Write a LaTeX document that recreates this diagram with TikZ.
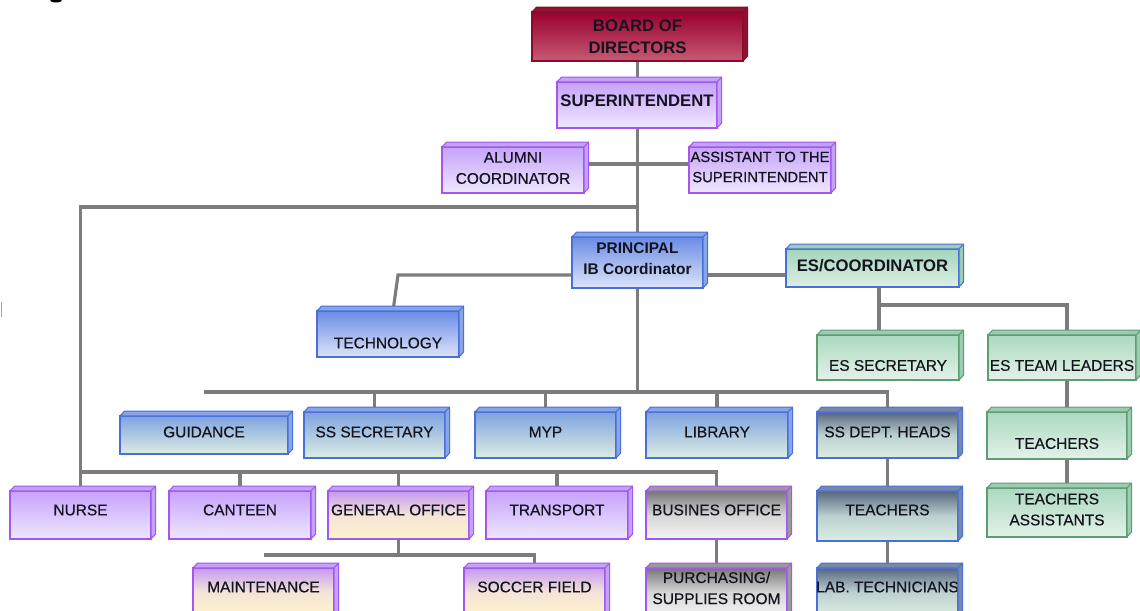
\documentclass[tikz,border=0pt]{standalone}
\usepackage{fontspec}
\setmainfont{Liberation Sans}
\newfontfamily\lblfont[FakeBold=0.5]{Liberation Sans}
\usetikzlibrary{backgrounds}
\definecolor{connc}{HTML}{7C7C7C}
\definecolor{txtc}{HTML}{14141F}
\definecolor{bdB}{HTML}{8A0A2A}\definecolor{bdT}{HTML}{9A0030}\definecolor{bdBot}{HTML}{C65A72}\definecolor{bdS}{HTML}{8E1232}
\definecolor{purB}{HTML}{A455F2}\definecolor{purT}{HTML}{C6A2FA}\definecolor{purBot}{HTML}{EFE8FF}\definecolor{purS}{HTML}{C3A3F5}
\definecolor{bluB}{HTML}{4870D8}\definecolor{bluT}{HTML}{6A8CE6}\definecolor{bluBot}{HTML}{DCE4F8}\definecolor{bluS}{HTML}{8AA4E8}
\definecolor{bgT}{HTML}{7FA2E0}\definecolor{bgBot}{HTML}{DCEEE2}
\definecolor{escT}{HTML}{A4D4BC}\definecolor{escBot}{HTML}{DDF0E5}\definecolor{escS}{HTML}{9CCCB4}
\definecolor{grnB}{HTML}{5E9C74}\definecolor{grnT}{HTML}{ABD9BF}\definecolor{grnBot}{HTML}{E3F2E9}\definecolor{grnS}{HTML}{9CCBB0}
\definecolor{dkT}{HTML}{56657F}\definecolor{dkM}{HTML}{BCD0D0}\definecolor{dkBot}{HTML}{DCEEE2}\definecolor{dkS}{HTML}{7A88A6}
\definecolor{gryT}{HTML}{767676}\definecolor{gryM}{HTML}{D6D6D6}\definecolor{gryBot}{HTML}{F4F4F4}\definecolor{gryS}{HTML}{9A9A9A}
\definecolor{yelT}{HTML}{C49AF0}\definecolor{yelM}{HTML}{F4E4D8}\definecolor{yelBot}{HTML}{FFF3CC}
\tikzset{
  conn/.style={draw=connc, line width=1.8pt},
  orgbox/.style={draw, line width=0.8pt, inner sep=0pt, outer sep=0pt},
  facebase/.style={line width=0.6pt, line join=round},
  lbl/.style={inner sep=0pt, align=center, text=txtc, font=\lblfont\fontsize{8.8}{12}\selectfont},
  bld/.style={font=\fontsize{9.5}{12.5}\selectfont\bfseries},
  bldS/.style={font=\fontsize{8.8}{12}\selectfont\bfseries},
  nar/.style={font=\lblfont\fontsize{8.4}{11.5}\selectfont},
  bd/.style={draw=bdB, top color=bdT, bottom color=bdBot},
  bd side/.style={facebase, draw=bdB, fill=bdS},
  pur/.style={draw=purB, top color=purT, bottom color=purBot},
  pur side/.style={facebase, draw=purB, fill=purS},
  blu/.style={draw=bluB, top color=bluT, bottom color=bluBot},
  blu side/.style={facebase, draw=bluB, fill=bluS},
  bg/.style={draw=bluB, top color=bgT, bottom color=bgBot},
  bg side/.style={facebase, draw=bluB, fill=bluS},
  esc/.style={draw=bluB, top color=escT, bottom color=escBot},
  esc side/.style={facebase, draw=bluB, fill=escS},
  grn/.style={draw=grnB, top color=grnT, bottom color=grnBot},
  grn side/.style={facebase, draw=grnB, fill=grnS},
  dk/.style={draw=bluB, top color=dkT, bottom color=dkBot, middle color=dkM},
  dk side/.style={facebase, draw=bluB, fill=dkS},
  gry/.style={draw=purB, top color=gryT, bottom color=gryBot, middle color=gryM},
  gry side/.style={facebase, draw=purB, fill=gryS},
  yel/.style={draw=purB, top color=yelT, bottom color=yelBot, middle color=yelM},
  yel side/.style={facebase, draw=purB, fill=purS},
}
% #1 scheme, #2 name, #3 x1, #4 y1, #5 x2, #6 y2, #7 text shift down (px), #8 label options, #9 text
\newcommand\OrgBox[9]{%
  \node[orgbox,#1,minimum width={(#5-#3)*0.02cm},minimum height={(#6-#4)*0.02cm},
    label={[lbl,#8,yshift={-(#7)*0.02cm}]center:{#9}}] (#2) at ({(#3+#5)/2},{(#4+#6)/2}) {};
  \filldraw[#1 side] (#2.north west) -- ++(2.6pt,2.8pt) -- ([shift={(2.6pt,2.8pt)}]#2.north east)
     -- ([shift={(2.6pt,2.8pt)}]#2.south east) -- (#2.south east) -- (#2.north east) -- cycle;
  \draw[#1 side] (#2.north east) -- ++(2.6pt,2.8pt);
}
\begin{document}
\begin{tikzpicture}[x=0.02cm,y=-0.02cm]
\useasboundingbox (0,0) rectangle (1140,611);

\OrgBox{bd}{board}{532}{12}{743}{61}{0}{bld}{BOARD OF\\DIRECTORS}
\OrgBox{pur}{super}{557}{82}{717}{128}{-4}{bld}{SUPERINTENDENT}
\OrgBox{pur}{alumni}{442}{147}{584}{193}{-2}{}{ALUMNI\\COORDINATOR}
\OrgBox{pur}{assist}{689}{147}{831}{193}{-3}{nar}{ASSISTANT TO THE\\SUPERINTENDENT}
\OrgBox{blu}{principal}{572}{237}{703}{288}{-4}{bldS}{PRINCIPAL\\IB Coordinator}
\OrgBox{esc}{escoord}{786}{249}{959}{287}{-2}{bld}{ES/COORDINATOR}
\OrgBox{blu}{tech}{317}{311}{459}{357}{9}{}{TECHNOLOGY}
\OrgBox{grn}{essec}{817}{335}{959}{380}{8}{}{ES SECRETARY}
\OrgBox{grn}{esteam}{988}{335}{1136}{380}{8}{}{ES TEAM LEADERS}
\OrgBox{bg}{guid}{120}{416}{288}{454}{-3}{}{GUIDANCE}
\OrgBox{bg}{sssec}{304}{412}{445}{458}{-3}{}{SS SECRETARY}
\OrgBox{bg}{myp}{475}{412}{616}{458}{-3}{}{MYP}
\OrgBox{bg}{lib}{646}{412}{788}{458}{-3}{}{LIBRARY}
\OrgBox{dk}{ssdept}{817}{412}{958}{458}{-3}{}{SS DEPT.\ HEADS}
\OrgBox{grn}{esteach}{987}{412}{1127}{459}{8}{}{TEACHERS}
\OrgBox{grn}{esta}{987}{488}{1127}{537}{-3}{}{TEACHERS\\ASSISTANTS}
\OrgBox{pur}{nurse}{10}{491}{151}{539}{-5}{}{NURSE}
\OrgBox{pur}{canteen}{169}{491}{311}{539}{-5}{}{CANTEEN}
\OrgBox{yel}{genoff}{328}{491}{469}{539}{-5}{}{GENERAL OFFICE}
\OrgBox{pur}{transp}{486}{491}{628}{539}{-5}{}{TRANSPORT}
\OrgBox{gry}{busoff}{646}{491}{787}{539}{-5}{}{BUSINES OFFICE}
\OrgBox{dk}{ssteach}{817}{491}{958}{541}{-6}{}{TEACHERS}
\OrgBox{yel}{maint}{193}{568}{334}{616}{-5}{}{MAINTENANCE}
\OrgBox{yel}{soccer}{464}{568}{605}{616}{-5}{}{SOCCER FIELD}
\OrgBox{gry}{purch}{646}{568}{787}{616}{-4}{}{PURCHASING/\\SUPPLIES ROOM}
\OrgBox{dk}{labtech}{817}{568}{958}{616}{-5}{}{LAB. TECHNICIANS}

\begin{scope}[on background layer]
  \fill[white] (0,0) rectangle (1140,611);
  % main spine
  \draw[conn] (board.south) -- (principal.north);
  \draw[conn] ([yshift=3.4pt]alumni.east) -- ([yshift=3.4pt]assist.west);
  % left branch to bottom row
  \draw[conn] (board.south |- 0,207) -| (nurse.north);
  \draw[conn] (nurse.north |- 0,472) -| (busoff.north);
  \foreach \n in {canteen,genoff,transp} \draw[conn] (\n.north |- 0,472) -- (\n.north);
  % principal sides
  \draw[conn] (principal.west |- 0,275) -- (398,275) -- ([xshift=0.1cm]tech.north);
  \draw[conn] (principal.east |- 0,275) -- (escoord.west |- 0,275);
  % ES branch
  \draw[conn] (escoord.south -| 879,0) -- (879,305) -| (esteam.north -| 1067,0);
  \draw[conn] (879,305) -- (essec.north -| 879,0);
  \draw[conn] (esteam.south -| 1067,0) -- (esta.north -| 1067,0);
  % middle row
  \draw[conn] (principal.south) -- (principal.south |- 0,392);
  \draw[conn] (guid.north |- 0,392) -| (ssdept.north);
  \foreach \n in {sssec,myp,lib} \draw[conn] (\n.north |- 0,392) -- (\n.north);
  \draw[conn] (ssdept.south) -- (labtech.north);
  % lower offices
  \draw[conn] (genoff.south) -- (genoff.south |- 0,555);
  \draw[conn] (maint.north |- 0,555) -| (soccer.north);
  \draw[conn] (busoff.south) -- (purch.north);
\end{scope}
% small marks at the edges of the reference
\fill[black] (56,0) ellipse [x radius=0.12cm, y radius=0.05cm];
\draw[color=bluS, line width=0.8pt] (1.5,302) -- (1.5,317);
\end{tikzpicture}
\end{document}
